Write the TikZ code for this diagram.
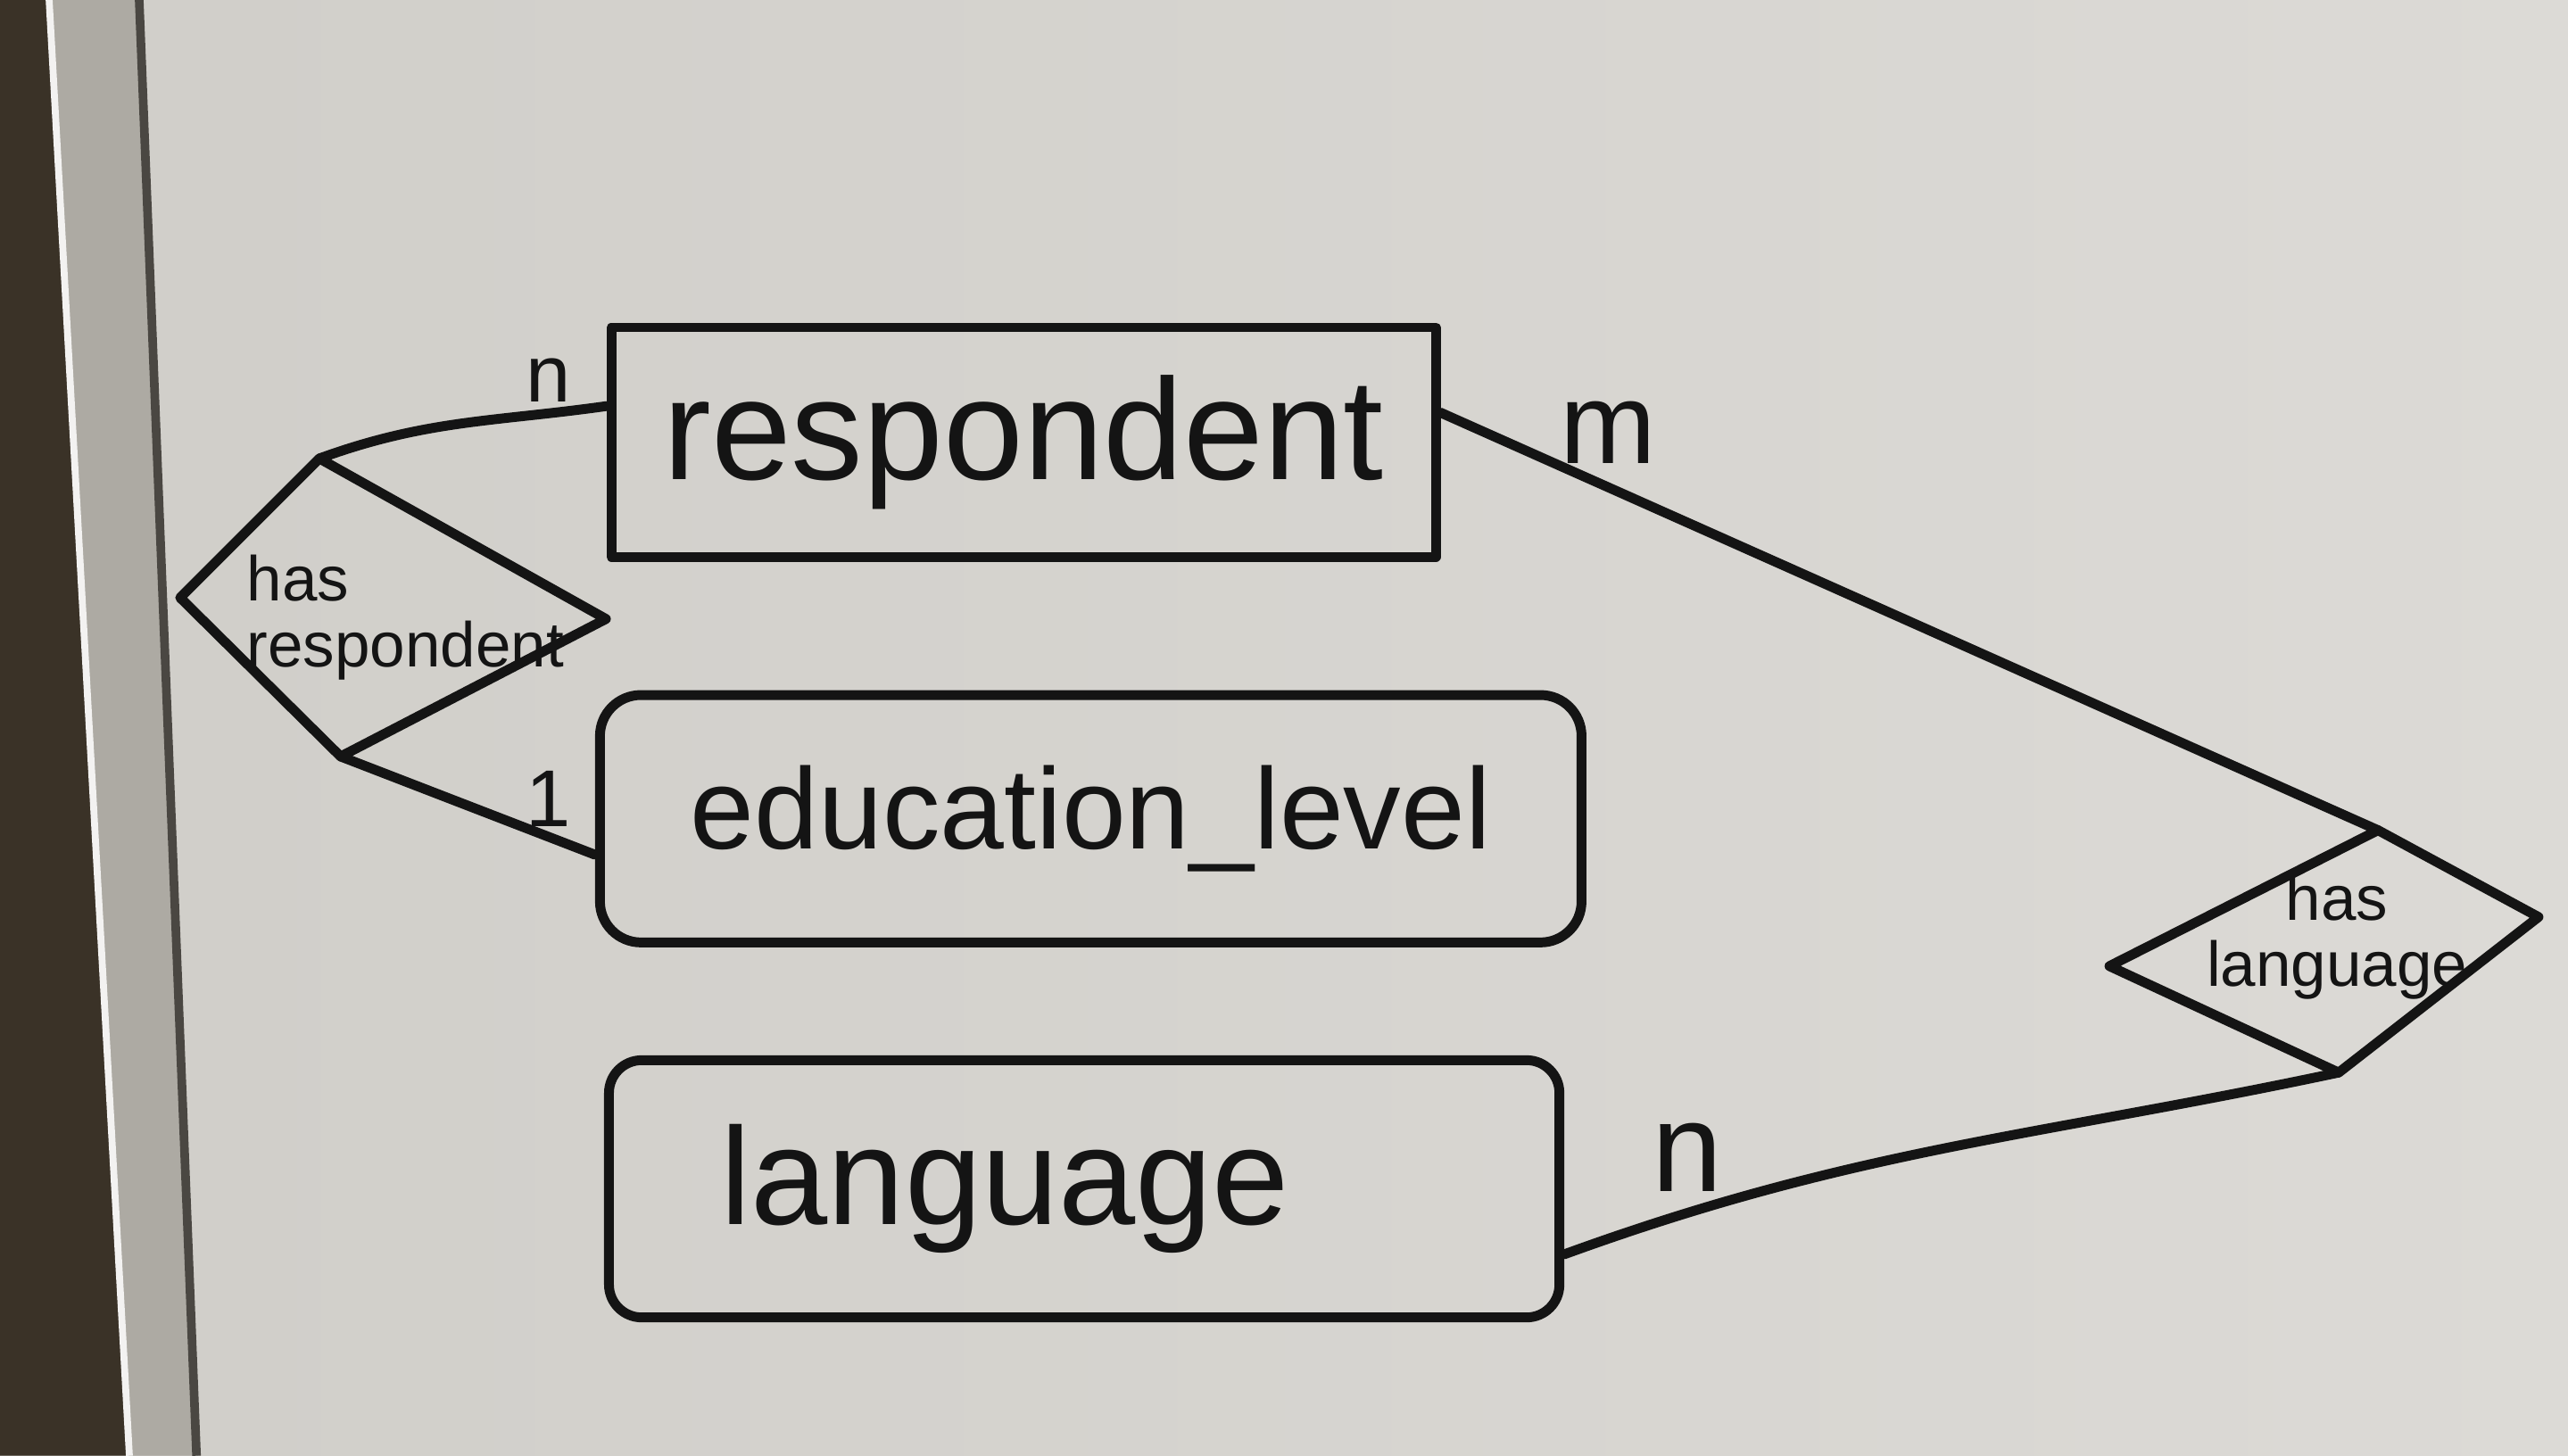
\documentclass[tikz,border=0pt]{standalone}
\usepackage{fontspec}
\setmainfont{Liberation Sans}
\definecolor{board}{HTML}{D0CEC9}
\definecolor{boardlight}{HTML}{DCDAD6}
\definecolor{wall}{HTML}{3A3227}
\definecolor{rim}{HTML}{ADAAA3}
\definecolor{rimedge}{HTML}{4A4742}
\definecolor{marker}{HTML}{141414}
\begin{document}
\begin{tikzpicture}[x=0.01cm,y=-0.01cm,
  ink/.style={draw=marker,line width=1.7pt,line cap=round,line join=round},
  entity/.style={ink,inner sep=0pt,text=marker},
  reltext/.style={text=marker,inner sep=0pt,font=\fontsize{11}{11.5}\selectfont},
  card/.style={text=marker,inner sep=0pt}]
  \useasboundingbox (0,0) rectangle (1568,889);

  % board surface and left rim
  \shade[left color=board,right color=boardlight] (0,0) rectangle (1568,889);
  \fill[wall] (0,0) -- (29,0) -- (78,889) -- (0,889) -- cycle;
  \fill[rim] (29,0) -- (86,0) -- (121,889) -- (78,889) -- cycle;
  \draw[white!85!rim,line width=1.2pt] (30,0) -- (79,889);
  \draw[rimedge,line width=1.5pt] (85,0) -- (120,889);

  % entities
  \node[entity,minimum width=5.03cm,minimum height=1.40cm,
        font=\fontsize{25}{30}\selectfont] (resp) at (625,270) {respondent};
  \node[entity,rounded corners=0.25cm,minimum width=5.99cm,minimum height=1.51cm,
        font=\fontsize{20}{24}\selectfont] (edu) at (666,500) {education\_level};
  \node[entity,rounded corners=0.2cm,minimum width=5.80cm,minimum height=1.57cm,
        inner xsep=0.68cm,text width=4.44cm,align=left,
        font=\fontsize{24}{28}\selectfont] (lang) at (662,726) {language};

  % relationship: has respondent
  \coordinate (hr-l) at (110,365);
  \coordinate (hr-t) at (195,280);
  \coordinate (hr-r) at (370,378);
  \coordinate (hr-b) at (208,462);
  \draw[ink] (hr-l) -- (hr-t) -- (hr-r) -- (hr-b) -- cycle;
  \node[reltext,align=left,anchor=west] (hr) at (150,377) {has\\respondent};

  % relationship: has language
  \coordinate (hl-l) at (1288,590);
  \coordinate (hl-t) at (1452,507);
  \coordinate (hl-r) at (1550,560);
  \coordinate (hl-b) at (1428,655);
  \draw[ink] (hl-l) -- (hl-t) -- (hl-r) -- (hl-b) -- cycle;
  \node[reltext,align=center] (hl) at (1427,572) {has\\language};

  % connectors
  \draw[ink] (hr-t) to[out=20,in=188] (resp.west |- 0,248);
  \draw[ink] (hr-b) -- (edu.west |- 0,522);
  \draw[ink] (resp.east |- 0,252) -- (hl-t);
  \draw[ink] (lang.east |- 0,766) to[out=20,in=192] (hl-b);

  % cardinalities
  \node[card,font=\fontsize{14}{16}\selectfont] (c-resp) at (335,232) {n};
  \node[card,font=\fontsize{14}{16}\selectfont] (c-edu) at (335,488) {1};
  \node[card,font=\fontsize{20}{24}\selectfont] (c-m) at (982,264) {m};
  \node[card,font=\fontsize{22}{26}\selectfont] (c-lang) at (1030,707) {n};
\end{tikzpicture}
\end{document}
